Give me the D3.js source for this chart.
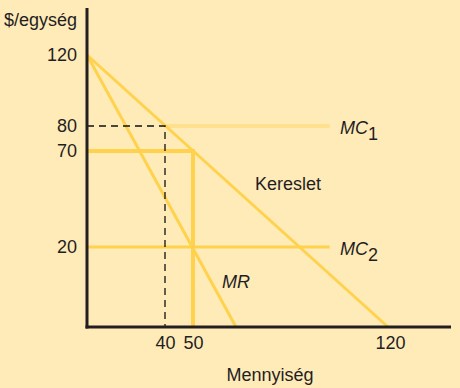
<!DOCTYPE html>
<html>
<head>
<meta charset="utf-8">
<script src="https://cdn.jsdelivr.net/npm/d3@7"></script>
<style>
  body { margin: 0; background: #ffebb8; }
  svg { display: block; }
  text { font-family: "Liberation Sans", Arial, sans-serif; fill: #1f1e24; }
</style>
</head>
<body>
<svg id="chart" width="460" height="388"></svg>
<script>
// schematic chart: tick positions are not evenly spaced in the original,
// so the scales are piecewise linear through the labelled values
var qKnots = [0, 40, 50, 60, 120];
var pKnots = [0, 20, 70, 80, 120];

var xTicks = [40, 50, 120];
var yTicks = [20, 70, 80, 120];

var demand = [{q: 0, p: 120}, {q: 120, p: 0}];
var mr = [{q: 0, p: 120}, {q: 60, p: 0}];
var mc1 = [{q: 40, p: 80}, {q: 97, p: 80}];
var mc2 = [{q: 0, p: 20}, {q: 97, p: 20}];
var optimum = [{q: 0, p: 70}, {q: 50, p: 70}, {q: 50, p: 0}];
var guide = [{q: 0, p: 80}, {q: 40, p: 80}, {q: 40, p: 0}];

var x = d3.scaleLinear()
    .domain(qKnots)
    .range([87, 165, 193, 236, 388]);

var y = d3.scaleLinear()
    .domain(pKnots)
    .range([327, 247, 151, 126, 55]);

var axisTop = 8;
var axisRight = 451;
var fontSize = 18;

var svg = d3.select('#chart');

var line = d3.line()
    .x(function(d) { return x(d.q); })
    .y(function(d) { return y(d.p); });

var yellow = '#ffd24d';

svg.append('path')
    .datum(mc1)
    .attr('d', line)
    .attr('fill', 'none')
    .attr('stroke', '#ffe08e')
    .attr('stroke-width', 4);

svg.append('path')
    .datum(mc2)
    .attr('d', line)
    .attr('fill', 'none')
    .attr('stroke', yellow)
    .attr('stroke-width', 3);

svg.append('path')
    .datum(demand)
    .attr('d', line)
    .attr('fill', 'none')
    .attr('stroke', yellow)
    .attr('stroke-width', 3);

svg.append('path')
    .datum(mr)
    .attr('d', line)
    .attr('fill', 'none')
    .attr('stroke', yellow)
    .attr('stroke-width', 3);

svg.append('path')
    .datum(optimum)
    .attr('d', line)
    .attr('fill', 'none')
    .attr('stroke', yellow)
    .attr('stroke-width', 4)
    .attr('stroke-linejoin', 'miter');

svg.append('path')
    .datum(guide)
    .attr('d', line)
    .attr('fill', 'none')
    .attr('stroke', '#111')
    .attr('stroke-width', 1.3)
    .attr('stroke-dasharray', '7,5');

// axes
svg.append('line')
    .attr('x1', x(0)).attr('x2', x(0))
    .attr('y1', axisTop).attr('y2', y(0) + 1.5)
    .attr('stroke', '#231f20')
    .attr('stroke-width', 3);

svg.append('line')
    .attr('x1', x(0) - 1.5).attr('x2', axisRight)
    .attr('y1', y(0)).attr('y2', y(0))
    .attr('stroke', '#231f20')
    .attr('stroke-width', 3);

var yAxis = d3.axisLeft(y)
    .tickValues(yTicks)
    .tickSize(0)
    .tickPadding(10);

var gy = svg.append('g')
    .attr('transform', 'translate(' + x(0) + ',0)')
    .call(yAxis);

var xAxis = d3.axisBottom(x)
    .tickValues(xTicks)
    .tickSize(0)
    .tickPadding(9);

var gx = svg.append('g')
    .attr('transform', 'translate(0,' + y(0) + ')')
    .call(xAxis);

svg.selectAll('.domain').remove();
svg.selectAll('.tick text')
    .attr('font-family', '"Liberation Sans", Arial, sans-serif')
    .attr('font-size', fontSize)
    .attr('fill', '#1f1e24');
gx.selectAll('.tick text').attr('dy', '0.71em');
gx.selectAll('.tick text').filter(function(d) { return d === 120; }).attr('dx', 2);

svg.append('text')
    .attr('x', 4)
    .attr('y', 26)
    .attr('font-size', fontSize)
    .text('$/egység');

svg.append('text')
    .attr('x', 270)
    .attr('y', 381)
    .attr('text-anchor', 'middle')
    .attr('font-size', fontSize)
    .text('Mennyiség');

svg.append('text')
    .attr('x', 255)
    .attr('y', 190)
    .attr('font-size', fontSize)
    .text('Kereslet');

svg.append('text')
    .attr('x', 222)
    .attr('y', 288)
    .attr('font-size', fontSize)
    .attr('font-style', 'italic')
    .text('MR');

function mcLabel(p, sub) {
  var t = svg.append('text')
      .attr('x', 340)
      .attr('y', y(p) + 8)
      .attr('font-size', fontSize)
      .attr('font-style', 'italic');
  t.append('tspan').text('MC');
  t.append('tspan')
      .attr('dy', 6)
      .attr('font-style', 'normal')
      .text(sub);
}
mcLabel(80, '1');
mcLabel(20, '2');
</script>
</body>
</html>
